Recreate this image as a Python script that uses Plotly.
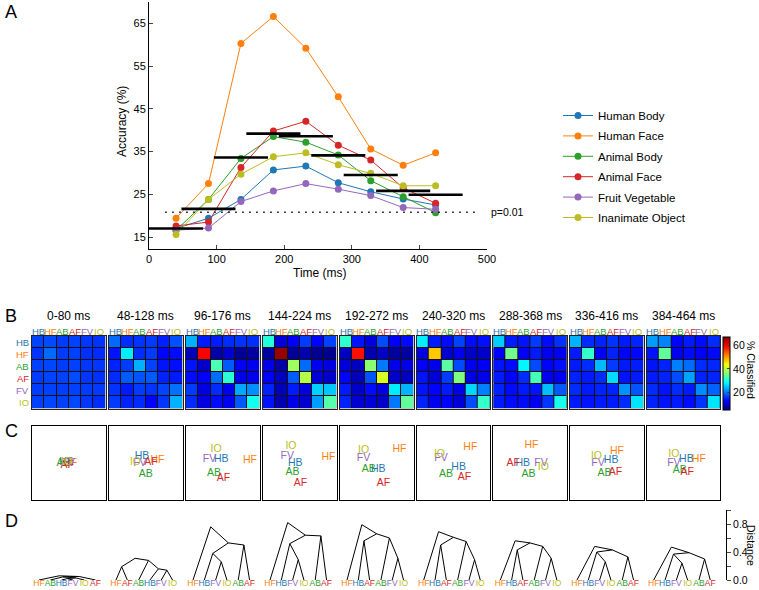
import plotly.graph_objects as go

W, H = 759, 590
FONT = "Liberation Sans, Arial, Helvetica, sans-serif"

# ---------------- data ----------------
categories = ["Human Body", "Human Face", "Animal Body", "Animal Face",
              "Fruit Vegetable", "Inanimate Object"]
abbrev = ["HB", "HF", "AB", "AF", "FV", "IO"]
cat_colors = ["#1f77b4", "#ff7f0e", "#2ca02c", "#d62728", "#9467bd", "#bcbd22"]

time_ms = [40, 88, 136, 184, 232, 280, 328, 376, 424]
acc_human_body = [17.0, 19.4, 23.8, 30.7, 31.6, 27.7, 25.6, 23.9, 22.5]
acc_human_face = [19.4, 27.5, 60.3, 66.6, 59.2, 47.8, 35.6, 31.8, 34.7]
acc_animal_body = [16.6, 23.8, 33.4, 38.5, 37.2, 34.2, 28.2, 24.4, 20.7]
acc_animal_face = [17.6, 18.5, 31.3, 39.8, 42.1, 36.5, 33.0, 26.5, 22.9]
acc_fruit_vegetable = [16.6, 17.1, 23.3, 25.8, 27.5, 26.2, 24.7, 21.9, 21.5]
acc_inanimate_object = [15.6, 23.8, 29.7, 33.8, 34.7, 31.9, 29.9, 27.0, 27.0]

window_start = [0, 48, 96, 144, 192, 240, 288, 336, 384]
window_end = [80, 128, 176, 224, 272, 320, 368, 416, 464]
window_mean_acc = [17.0, 21.6, 33.6, 39.2, 38.6, 34.1, 29.5, 25.8, 24.9]
window_labels = ["0-80 ms", "48-128 ms", "96-176 ms", "144-224 ms", "192-272 ms",
                 "240-320 ms", "288-368 ms", "336-416 ms", "384-464 ms"]
p_threshold = 20.8
p_line_ms = [24, 490]

# confusion matrices (% classified), rows = true HB..IO, cols = predicted HB..IO
conf_0_80 = [[17.0, 17.5, 16.5, 16.8, 16.2, 16.0],
             [16.0, 19.4, 16.5, 16.8, 15.8, 15.5],
             [16.8, 17.2, 16.6, 16.9, 16.3, 16.2],
             [16.5, 17.0, 16.8, 17.6, 16.2, 15.9],
             [16.6, 16.8, 16.7, 16.9, 16.6, 16.4],
             [16.8, 17.2, 16.9, 17.3, 16.2, 15.6]]
conf_48_128 = [[19.4, 15.5, 16.0, 16.5, 14.8, 17.8],
               [14.0, 27.5, 15.5, 16.5, 13.0, 13.5],
               [15.0, 16.5, 23.8, 17.0, 14.0, 13.7],
               [15.5, 18.5, 18.0, 18.5, 15.0, 14.5],
               [16.0, 14.5, 16.5, 16.0, 17.1, 19.9],
               [16.5, 15.0, 15.5, 13.0, 16.2, 23.8]]
conf_96_176 = [[23.8, 14.5, 14.5, 15.5, 16.0, 15.7],
               [8.5, 60.3, 7.5, 10.0, 6.5, 7.2],
               [14.0, 9.5, 33.4, 18.5, 12.5, 12.1],
               [13.5, 12.5, 19.5, 31.3, 11.5, 11.7],
               [16.5, 11.0, 15.5, 12.0, 23.3, 21.7],
               [15.5, 11.0, 13.5, 12.0, 18.3, 29.7]]
conf_144_224 = [[30.7, 10.5, 12.5, 16.5, 13.0, 16.8],
                [7.0, 66.6, 6.5, 8.0, 6.0, 5.9],
                [11.5, 7.5, 38.5, 19.5, 12.0, 11.0],
                [12.5, 9.0, 18.5, 39.8, 10.5, 9.7],
                [15.0, 8.5, 14.5, 11.0, 25.8, 25.2],
                [14.0, 8.0, 11.5, 10.0, 22.7, 33.8]]
conf_192_272 = [[31.6, 14.0, 11.0, 17.5, 12.5, 13.4],
                [9.0, 59.2, 8.0, 9.5, 7.0, 7.3],
                [10.5, 9.0, 37.2, 20.5, 11.5, 11.3],
                [13.0, 8.5, 18.0, 42.1, 9.5, 8.9],
                [14.5, 9.5, 13.5, 11.0, 27.5, 24.0],
                [15.0, 10.0, 10.5, 9.5, 20.3, 34.7]]
conf_240_320 = [[27.7, 14.5, 13.5, 17.0, 13.5, 13.8],
                [11.0, 47.8, 10.0, 12.0, 9.5, 9.7],
                [12.5, 11.5, 34.2, 17.5, 12.0, 12.3],
                [14.0, 10.5, 16.5, 36.5, 11.0, 11.5],
                [14.0, 13.0, 14.5, 11.5, 26.2, 20.8],
                [15.0, 12.0, 13.0, 10.5, 17.6, 31.9]]
conf_288_368 = [[25.6, 14.5, 14.0, 16.5, 13.5, 15.9],
                [13.0, 35.6, 12.5, 14.5, 12.0, 12.4],
                [14.0, 13.5, 28.2, 17.5, 13.0, 13.8],
                [14.5, 13.0, 15.5, 33.0, 12.0, 12.0],
                [15.0, 13.5, 14.5, 14.0, 24.7, 18.3],
                [14.5, 13.5, 13.5, 12.5, 16.1, 29.9]]
conf_336_416 = [[23.9, 15.5, 15.0, 16.0, 14.5, 15.1],
                [14.5, 31.8, 12.5, 15.0, 13.0, 13.2],
                [14.5, 15.5, 24.4, 16.5, 14.5, 14.6],
                [15.0, 14.5, 15.5, 26.5, 14.0, 14.5],
                [15.5, 14.5, 15.0, 15.0, 21.9, 18.1],
                [14.5, 14.0, 14.5, 14.5, 15.5, 27.0]]
conf_384_464 = [[22.5, 21.0, 13.0, 14.5, 13.5, 15.5],
                [14.0, 34.7, 12.0, 13.5, 12.5, 13.3],
                [14.0, 15.0, 20.7, 19.5, 15.5, 15.3],
                [14.5, 15.0, 17.5, 22.9, 15.0, 15.1],
                [15.5, 14.0, 15.5, 14.5, 21.5, 19.0],
                [15.0, 14.0, 14.5, 13.5, 16.0, 27.0]]
conf_matrices = [conf_0_80, conf_48_128, conf_96_176, conf_144_224, conf_192_272,
                 conf_240_320, conf_288_368, conf_336_416, conf_384_464]

# MDS coordinates (relative box units, y measured downward), order HB HF AB AF FV IO
mds_x_0_80 = [0.47, 0.52, 0.43, 0.48, 0.49, 0.47]
mds_y_0_80 = [0.49, 0.50, 0.51, 0.53, 0.50, 0.49]
mds_x_48_128 = [0.45, 0.66, 0.50, 0.57, 0.42, 0.36]
mds_y_48_128 = [0.41, 0.47, 0.65, 0.49, 0.51, 0.49]
mds_x_96_176 = [0.48, 0.87, 0.38, 0.51, 0.32, 0.41]
mds_y_96_176 = [0.45, 0.47, 0.64, 0.71, 0.45, 0.31]
mds_x_144_224 = [0.44, 0.89, 0.40, 0.51, 0.33, 0.38]
mds_y_144_224 = [0.50, 0.43, 0.63, 0.77, 0.41, 0.28]
mds_x_192_272 = [0.52, 0.81, 0.39, 0.59, 0.32, 0.32]
mds_y_192_272 = [0.59, 0.32, 0.59, 0.77, 0.44, 0.33]
mds_x_240_320 = [0.57, 0.73, 0.40, 0.65, 0.33, 0.31]
mds_y_240_320 = [0.56, 0.29, 0.65, 0.69, 0.44, 0.38]
mds_x_288_368 = [0.40, 0.52, 0.48, 0.27, 0.65, 0.68]
mds_y_288_368 = [0.51, 0.26, 0.65, 0.51, 0.51, 0.56]
mds_x_336_416 = [0.56, 0.64, 0.47, 0.62, 0.38, 0.36]
mds_y_336_416 = [0.47, 0.34, 0.64, 0.62, 0.50, 0.41]
mds_x_384_464 = [0.54, 0.71, 0.45, 0.55, 0.37, 0.37]
mds_y_384_464 = [0.45, 0.45, 0.60, 0.62, 0.50, 0.38]
mds_x = [mds_x_0_80, mds_x_48_128, mds_x_96_176, mds_x_144_224, mds_x_192_272,
         mds_x_240_320, mds_x_288_368, mds_x_336_416, mds_x_384_464]
mds_y = [mds_y_0_80, mds_y_48_128, mds_y_96_176, mds_y_144_224, mds_y_192_272,
         mds_y_240_320, mds_y_288_368, mds_y_336_416, mds_y_384_464]

# dendrograms: leaf order + merges (child a, child b, distance); ints = earlier merges
dendro_leaves = [
    ["HF", "AB", "HB", "FV", "IO", "AF"],
    ["HF", "AF", "AB", "HB", "FV", "IO"],
    ["HF", "HB", "FV", "IO", "AB", "AF"],
    ["HF", "HB", "FV", "IO", "AB", "AF"],
    ["HF", "HB", "AF", "AB", "FV", "IO"],
    ["HF", "HB", "AF", "AB", "FV", "IO"],
    ["HF", "HB", "AF", "AB", "FV", "IO"],
    ["HF", "HB", "FV", "IO", "AB", "AF"],
    ["HF", "HB", "FV", "IO", "AB", "AF"],
]
dendro_merges = [
    [("HB", "FV", 0.02), (0, "IO", 0.03), ("AB", 1, 0.045), (2, "AF", 0.05), ("HF", 3, 0.06)],
    [("HF", "AF", 0.19), ("FV", "IO", 0.14), ("HB", 1, 0.16), ("AB", 2, 0.28), (0, 3, 0.31)],
    [("FV", "IO", 0.26), ("HB", 0, 0.38), ("AB", "AF", 0.50), (1, 2, 0.53), ("HF", 3, 0.76)],
    [("FV", "IO", 0.29), ("HB", 0, 0.52), ("AB", "AF", 0.63), (1, 2, 0.64), ("HF", 3, 0.82)],
    [("HB", "AF", 0.56), ("FV", "IO", 0.31), ("AB", 1, 0.60), (0, 2, 0.66), ("HF", 3, 0.79)],
    [("HB", "AF", 0.50), ("FV", "IO", 0.29), ("AB", 1, 0.55), (0, 2, 0.61), ("HF", 3, 0.69)],
    [("HB", "AF", 0.43), ("FV", "IO", 0.31), ("AB", 1, 0.48), (0, 2, 0.53), ("HF", 3, 0.56)],
    [("FV", "IO", 0.26), ("HB", 0, 0.40), ("AB", "AF", 0.33), (1, 2, 0.43), ("HF", 3, 0.48)],
    [("FV", "IO", 0.24), ("HB", 0, 0.37), ("AB", "AF", 0.30), (1, 2, 0.39), ("HF", 3, 0.47)],
]

colorbar_ticks = [20, 40, 60]
distance_ticks = [0.0, 0.2, 0.4, 0.6, 0.8, 1.0]
distance_ticktext = ["0.0", "", "0.4", "", "0.8", ""]

# ---------------- helpers ----------------
def fx(p):
    return p / W


def fy(p):
    return 1 - p / H


abbr_color = dict(zip(abbrev, cat_colors))
jet = [[0.0, "rgb(0,0,128)"], [0.125, "rgb(0,0,255)"], [0.375, "rgb(0,255,255)"],
       [0.625, "rgb(255,255,0)"], [0.875, "rgb(255,0,0)"], [1.0, "rgb(128,0,0)"]]

panel_left = [32, 109, 186, 263, 340, 416.7, 493.3, 570, 646.7]
panel_w = 73.5

fig = go.Figure()
layout = dict(
    width=W, height=H, margin=dict(l=0, r=0, t=0, b=0, autoexpand=False),
    paper_bgcolor="white", plot_bgcolor="white",
    font=dict(family=FONT, size=10, color="black"),
    showlegend=True,
    legend=dict(x=fx(558), y=fy(101), xanchor="left", yanchor="top",
                font=dict(size=11.5, family=FONT), bgcolor="rgba(0,0,0,0)",
                tracegroupgap=1.4),
)
annotations = []
shapes = []

# ---------------- Panel A ----------------
series = [acc_human_body, acc_human_face, acc_animal_body, acc_animal_face,
          acc_fruit_vegetable, acc_inanimate_object]
for name, vals, col in zip(categories, series, cat_colors):
    fig.add_trace(go.Scatter(x=time_ms, y=vals, name=name, mode="lines+markers",
                             line=dict(color=col, width=1),
                             marker=dict(color=col, size=7),
                             legendgroup=name, xaxis="x", yaxis="y"))

bx, by = [], []
for s, e, m in zip(window_start, window_end, window_mean_acc):
    bx += [s, e, None]
    by += [m, m, None]
fig.add_trace(go.Scatter(x=bx, y=by, mode="lines", line=dict(color="black", width=2.6),
                         showlegend=False, xaxis="x", yaxis="y", hoverinfo="skip"))
fig.add_trace(go.Scatter(x=p_line_ms, y=[p_threshold, p_threshold], mode="lines",
                         line=dict(color="black", width=1.3, dash="1.5px,5.5px"),
                         showlegend=False, xaxis="x", yaxis="y", cliponaxis=False))

layout["xaxis"] = dict(domain=[fx(149), fx(487)], range=[0, 500], anchor="y",
                       tickvals=[0, 100, 200, 300, 400, 500], ticks="inside", ticklen=4,
                       showline=True, linecolor="black", linewidth=1, showgrid=False,
                       zeroline=False, tickfont=dict(size=11))
layout["yaxis"] = dict(domain=[fy(249), fy(2)], range=[12.2, 70.0], anchor="x",
                       tickvals=[15, 25, 35, 45, 55, 65], ticks="inside", ticklen=4,
                       showline=True, linecolor="black", linewidth=1, showgrid=False,
                       zeroline=False, tickfont=dict(size=11))
annotations += [
    dict(text="Accuracy (%)", x=fx(122), y=fy(122), xref="paper", yref="paper",
         xanchor="center", yanchor="middle",
         textangle=-90, showarrow=False, font=dict(size=12)),
    dict(text="Time (ms)", x=fx(320), y=fy(273), xref="paper", yref="paper",
         xanchor="center", yanchor="middle", showarrow=False, font=dict(size=12)),
    dict(text="p=0.01", x=fx(489), y=fy(212), xref="paper", yref="paper",
         xanchor="left", yanchor="middle", showarrow=False, font=dict(size=10.5)),
]

# panel letters
for letter, yy in [("A", 12), ("B", 316), ("C", 431), ("D", 521)]:
    annotations.append(dict(text=letter, x=fx(3), y=fy(yy), xref="paper", yref="paper",
                            xanchor="left", yanchor="middle", showarrow=False,
                            font=dict(size=18)))

# ---------------- Panel B: confusion matrices ----------------
for k in range(9):
    ax = 2 + k
    x0 = panel_left[k]
    fig.add_trace(go.Heatmap(z=conf_matrices[k], x=list(range(6)), y=list(range(6)),
                             colorscale=jet, zmin=5, zmax=68, xgap=1, ygap=1,
                             showscale=(k == 8),
                             colorbar=dict(x=fx(723.3), xanchor="left", xref="paper",
                                           y=fy(373), yanchor="middle", len=72.6,
                                           lenmode="pixels", thickness=7.4,
                                           thicknessmode="pixels", outlinewidth=1,
                                           outlinecolor="black", tickvals=colorbar_ticks,
                                           ticks="inside", ticklen=3, xpad=0, ypad=0,
                                           tickfont=dict(size=10.5)),
                             xaxis=f"x{ax}", yaxis=f"y{ax}", hoverinfo="z"))
    layout[f"xaxis{ax}"] = dict(domain=[fx(x0), fx(x0 + panel_w)], range=[-0.5, 5.5],
                                anchor=f"y{ax}", showticklabels=False, ticks="",
                                showgrid=False, zeroline=False, showline=True,
                                linecolor="#222", linewidth=1, mirror=True)
    layout[f"yaxis{ax}"] = dict(domain=[fy(408.5), fy(336)], range=[5.5, -0.5],
                                anchor=f"x{ax}", showticklabels=False, ticks="",
                                showgrid=False, zeroline=False, showline=True,
                                linecolor="#222", linewidth=1, mirror=True)
    shapes.append(dict(type="rect", xref=f"x{ax}", yref=f"y{ax}", x0=-0.5, x1=5.5,
                       y0=-0.5, y1=5.5, fillcolor="#111", line=dict(width=0),
                       layer="below"))
    annotations.append(dict(text=window_labels[k], x=fx(x0 + panel_w / 2), y=fy(316),
                            xref="paper", yref="paper", xanchor="center",
                            yanchor="middle", showarrow=False, font=dict(size=12)))
    for j, ab in enumerate(abbrev):
        annotations.append(dict(text=ab, x=j, y=fy(331), xref=f"x{ax}", yref="paper",
                                xanchor="center", yanchor="middle", showarrow=False,
                                font=dict(size=9.5, color=cat_colors[j])))
for j, ab in enumerate(abbrev):
    annotations.append(dict(text=ab, x=fx(30.5), y=j, xref="paper", yref="y2",
                            xanchor="right", yanchor="middle", showarrow=False,
                            font=dict(size=9.5, color=cat_colors[j])))
annotations.append(dict(text="% Classified", x=fx(751), y=fy(370), xref="paper",
                        yref="paper", xanchor="center", yanchor="middle",
                        textangle=90, showarrow=False, font=dict(size=10.5)))

# ---------------- Panel C: MDS ----------------
for k in range(9):
    ax = 11 + k
    x0 = panel_left[k]
    fig.add_trace(go.Scatter(x=mds_x[k], y=mds_y[k], mode="text", text=abbrev,
                             textposition="middle center",
                             textfont=dict(color=cat_colors, size=10.5, family=FONT),
                             showlegend=False, xaxis=f"x{ax}", yaxis=f"y{ax}",
                             hoverinfo="skip"))
    layout[f"xaxis{ax}"] = dict(domain=[fx(x0), fx(x0 + panel_w)], range=[0, 1],
                                anchor=f"y{ax}", showticklabels=False, ticks="",
                                showgrid=False, zeroline=False, showline=True,
                                linecolor="black", linewidth=1.2, mirror=True)
    layout[f"yaxis{ax}"] = dict(domain=[fy(500), fy(426)], range=[1, 0],
                                anchor=f"x{ax}", showticklabels=False, ticks="",
                                showgrid=False, zeroline=False, showline=True,
                                linecolor="black", linewidth=1.2, mirror=True)

# ---------------- Panel D: dendrograms ----------------
for k in range(9):
    ax = 20 + k
    x0 = panel_left[k]
    leaves = dendro_leaves[k]
    pos = {name: (i, 0.0) for i, name in enumerate(leaves)}
    lx, ly = [], []
    for m, (a, b, h) in enumerate(dendro_merges[k]):
        pa, pb = pos[a], pos[b]
        xm = (pa[0] + pb[0]) / 2
        for p in (pa, pb):
            lx += [xm, p[0], None]
            ly += [h, p[1], None]
        pos[m] = (xm, h)
    fig.add_trace(go.Scatter(x=lx, y=ly, mode="lines", line=dict(color="black", width=1),
                             showlegend=False, xaxis=f"x{ax}", yaxis=f"y{ax}",
                             hoverinfo="skip", cliponaxis=False))
    fig.add_trace(go.Scatter(x=list(range(6)), y=[0] * 6, mode="text", text=leaves,
                             textposition="bottom center",
                             textfont=dict(color=[abbr_color[n] for n in leaves],
                                           size=8.5, family=FONT),
                             showlegend=False, xaxis=f"x{ax}", yaxis=f"y{ax}",
                             hoverinfo="skip", cliponaxis=False))
    layout[f"xaxis{ax}"] = dict(domain=[fx(x0), fx(x0 + panel_w)], range=[-0.62, 5.88],
                                anchor=f"y{ax}", visible=False)
    ydict = dict(domain=[fy(580), fy(510)], range=[0, 1.0], anchor=f"x{ax}",
                 showgrid=False, zeroline=False)
    if k == 8:
        ydict.update(dict(visible=True, side="right", anchor="free", position=fx(726),
                          showline=True, linecolor="black", linewidth=1, ticks="outside",
                          ticklen=4, tickvals=distance_ticks, ticktext=distance_ticktext,
                          tickfont=dict(size=10.5)))
    else:
        ydict["visible"] = False
    layout[f"yaxis{ax}"] = ydict
annotations.append(dict(text="Distance", x=fx(751), y=fy(545), xref="paper", yref="paper",
                        xanchor="center", yanchor="middle",
                        textangle=90, showarrow=False, font=dict(size=10.5)))

layout["annotations"] = annotations
layout["shapes"] = shapes
fig.update_layout(**layout)
fig.write_html("out.html", config={"displayModeBar": False},
               post_script="document.body.style.margin='0';document.body.style.padding='0';")
